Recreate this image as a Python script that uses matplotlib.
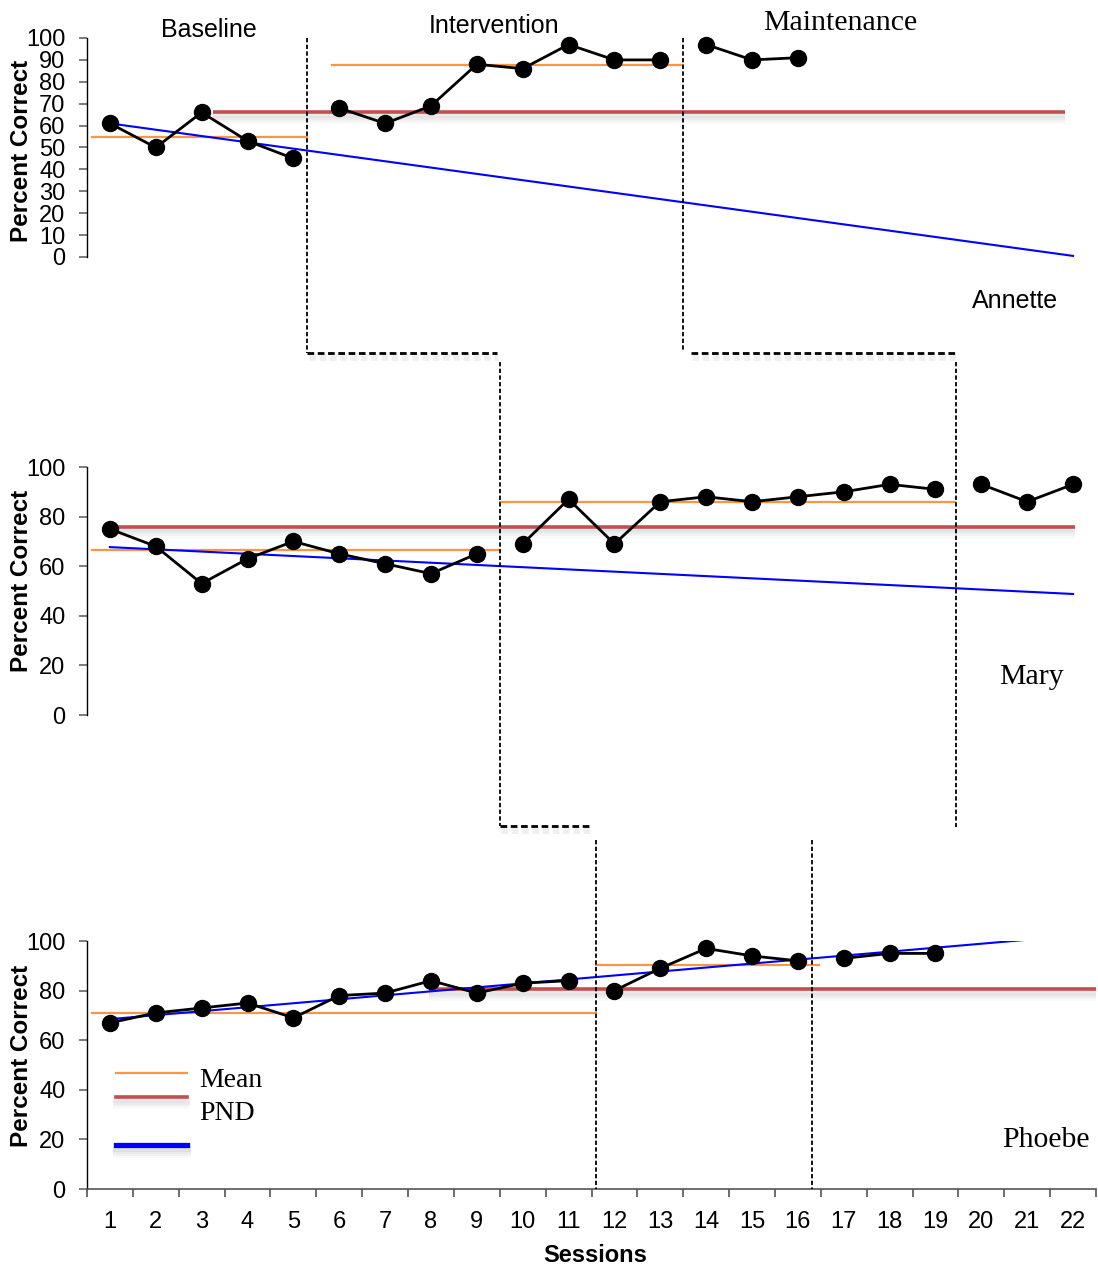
import matplotlib
matplotlib.use("Agg")
import matplotlib.pyplot as plt
from matplotlib.lines import Line2D
import matplotlib.patheffects as pe
from matplotlib.transforms import blended_transform_factory
import numpy as np

plt.rcParams['font.family'] = ['Liberation Sans', 'DejaVu Sans']

# ---------------- data ----------------
session_labels = [str(i) for i in range(1, 23)]

annette_baseline = [61, 50, 66, 53, 45]
annette_intervention = [68, 61, 69, 88, 86, 97, 90, 90]
annette_maintenance = [97, 90, 91]

mary_baseline = [75, 68, 53, 63, 70, 65, 61, 57, 65]
mary_intervention = [69, 87, 69, 86, 88, 86, 88, 90, 93, 91]
mary_maintenance = [93, 86, 93]

phoebe_baseline = [67, 71, 73, 75, 69, 78, 79, 84, 79, 83, 84]
phoebe_intervention = [80, 89, 97, 94, 92]
phoebe_maintenance = [93, 95, 95]

# mean lines: (value, x_start, x_end)
annette_means = [(55, 0.6, 5.3), (87.8, 5.84, 13.5)]
mary_means = [(66.4, 0.6, 9.5), (85.8, 9.5, 19.43)]
phoebe_means = [(70.8, 0.6, 11.6), (90.2, 11.6, 16.45)]

# PND lines: (value, x_start, x_end)
annette_pnd = (66, 3.24, 21.83)
mary_pnd = (76, 1.1, 22.05)
phoebe_pnd = (80.5, 7.96, 22.5)

# trend lines: ((x0, y0), (x1, y1))
annette_trend = ((1, 61), (22, 0.5))
mary_trend = ((1, 67.7), (22, 48.8))
phoebe_trend = ((1, 68.5), (22, 102.1))

# phase change positions (session units)
annette_phase = [5.3, 13.5]
mary_phase = [9.5, 19.45]
phoebe_phase = [11.6, 16.3]

# ---------------- figure ----------------
W, H = 1098, 1271
fig = plt.figure(figsize=(W / 100, H / 100), dpi=100)

def fx(px):
    return px / W

def fy(py):
    return 1 - py / H

def make_axes(top_px, bottom_px):
    return fig.add_axes([fx(87), fy(bottom_px), fx(1096) - fx(87),
                         (bottom_px - top_px) / H])

ax1 = make_axes(38, 257)
ax2 = make_axes(467, 715)
ax3 = make_axes(941, 1189)

ORANGE = '#F79646'
RED = '#C0504D'
BLUE = '#0000FF'

def soft_shadow(width):
    effs = []
    for off, a in ((-2, 0.10), (-3.5, 0.08), (-5, 0.06), (-6.5, 0.04)):
        effs.append(pe.SimpleLineShadow(offset=(0, off), shadow_color='#808080',
                                        alpha=a, linewidth=width))
    effs.append(pe.Normal())
    return effs

pnd_effect = soft_shadow(4)

def draw_panel(ax, phases, means, pnd, trend, yticks):
    ax.set_xlim(0.5, 22.5)
    ax.set_ylim(0, 100)
    for s in ['top', 'right', 'bottom']:
        ax.spines[s].set_visible(False)
    ax.spines['left'].set_color('black')
    ax.spines['left'].set_linewidth(1.0)
    ax.set_yticks(yticks)
    ax.tick_params(axis='y', direction='out', length=5.5, width=1.2,
                   color='#666666', pad=10, labelsize=17)
    ax.set_xticks([])
    # PND
    v, x0, x1 = pnd
    ax.plot([x0, x1], [v, v], color=RED, lw=2.6, zorder=2,
            path_effects=pnd_effect, solid_capstyle='butt')
    # means
    for v, x0, x1 in means:
        ax.plot([x0, x1], [v, v], color=ORANGE, lw=1.6, zorder=3)
    # trend
    (tx0, ty0), (tx1, ty1) = trend
    ax.plot([tx0, tx1], [ty0, ty1], color=BLUE, lw=1.5, zorder=3)
    # data phases
    start = 1
    for vals in phases:
        xs = np.arange(start, start + len(vals))
        ax.plot(xs, vals, color='black', lw=2.0, marker='o', ms=11.5,
                markerfacecolor='black', zorder=5, clip_on=False)
        start += len(vals)

draw_panel(ax1, [annette_baseline, annette_intervention, annette_maintenance],
           annette_means, annette_pnd, annette_trend, range(0, 101, 10))
draw_panel(ax2, [mary_baseline, mary_intervention, mary_maintenance],
           mary_means, mary_pnd, mary_trend, range(0, 101, 20))
draw_panel(ax3, [phoebe_baseline, phoebe_intervention, phoebe_maintenance],
           phoebe_means, phoebe_pnd, phoebe_trend, range(0, 101, 20))

# x axis on the bottom panel
ax3.spines['bottom'].set_visible(True)
ax3.spines['bottom'].set_color('#555555')
ax3.spines['bottom'].set_linewidth(1.2)
ax3.set_xticks(range(1, 23))
ax3.set_xticklabels(session_labels)
ax3.tick_params(axis='x', which='major', length=0, pad=16, labelsize=17)
ax3.set_xticks(np.arange(0.5, 23, 1), minor=True)
ax3.tick_params(axis='x', which='minor', direction='out', length=5.5,
                width=1.2, color='#555555')

# ---------------- phase change lines ----------------
vdash = (0, (2.4, 1.3))
shadow_h = [pe.SimpleLineShadow(offset=(1, -3), shadow_color='#aaaaaa',
                                alpha=0.18, linewidth=5), pe.Normal()]

def vline(ax, x, y0px, y1px):
    tr = blended_transform_factory(ax.transData, fig.transFigure)
    fig.add_artist(Line2D([x, x], [fy(y0px), fy(y1px)], transform=tr,
                          color='black', lw=1.3, linestyle=vdash))

def hline(ax, x0, x1, ypx):
    tr = blended_transform_factory(ax.transData, fig.transFigure)
    fig.add_artist(Line2D([x0, x1], [fy(ypx), fy(ypx)], transform=tr,
                          color='black', lw=2.0, linestyle=vdash,
                          path_effects=shadow_h))

# Annette
vline(ax1, annette_phase[0], 38, 353)
vline(ax1, annette_phase[1], 38, 352)
hline(ax1, annette_phase[0], 9.44, 353)
hline(ax1, 13.67, 19.43, 352.5)
# Mary
vline(ax2, mary_phase[0], 362, 826)
vline(ax2, mary_phase[1], 362, 827)
hline(ax2, mary_phase[0], 11.51, 826)
# Phoebe
vline(ax3, phoebe_phase[0], 840, 1189)
vline(ax3, phoebe_phase[1], 840, 1189)

# ---------------- texts ----------------
SERIF = ['Liberation Serif', 'DejaVu Serif']
fig.text(fx(209), fy(36.7), 'Baseline', ha='center', va='baseline', size=18)
fig.text(fx(494), fy(33.3), 'Intervention', ha='center', va='baseline', size=18)
fig.text(fx(840), fy(30), 'Maintenance', ha='center', va='baseline',
         size=21.5, family=SERIF)
fig.text(fx(1015), fy(308.3), 'Annette', ha='center', va='baseline', size=18)
fig.text(fx(1031), fy(684), 'Mary', ha='center', va='baseline',
         size=21.5, family=SERIF)
fig.text(fx(1046), fy(1147.3), 'Phoebe', ha='center', va='baseline',
         size=21.5, family=SERIF)

for yc in (151, 581, 1056):
    fig.text(fx(22), fy(yc), 'Percent Correct', rotation=90, ha='center',
             va='center', size=17.5, weight='bold')

fig.text(fx(595), fy(1261.7), 'Sessions', ha='center', va='baseline',
         size=17, weight='bold')

# ---------------- legend (manual) ----------------
lx0, lx1 = (115.6 - 87) / 1009, (186.8 - 87) / 1009
ax3.add_line(Line2D([lx0, lx1], [0.469, 0.469], transform=ax3.transAxes,
                    color=ORANGE, lw=1.6, clip_on=False))
ax3.add_line(Line2D([lx0, lx1], [0.371, 0.371], transform=ax3.transAxes,
                    color=RED, lw=2.6, clip_on=False, path_effects=pnd_effect))
ax3.add_line(Line2D([lx0, lx1], [0.177, 0.177], transform=ax3.transAxes,
                    color=BLUE, lw=3.8, clip_on=False,
                    path_effects=soft_shadow(5)))
fig.text(fx(199), fy(1086.7), 'Mean', ha='left', va='baseline',
         size=20, family=SERIF)
fig.text(fx(199), fy(1120), 'PND', ha='left', va='baseline',
         size=20, family=SERIF)

fig.savefig('out.png', dpi=100)
